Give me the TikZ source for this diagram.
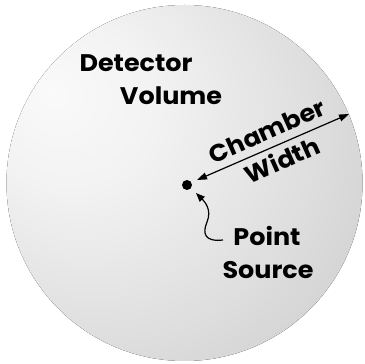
\documentclass[tikz,border=0pt]{standalone}
\usepackage{fontspec}
\setmainfont{Poppins}[FakeStretch=1.06]
\usetikzlibrary{arrows.meta}
\pgfdeclareradialshading{spherelit}{\pgfpoint{-19bp}{13bp}}{%
  color(0bp)=(black!2);
  color(12bp)=(black!5);
  color(30bp)=(black!13);
  color(50bp)=(black!23);
  color(75bp)=(black!35)}
\tikzset{
  lbl/.style={font=\bfseries\fontsize{24}{28}\selectfont, inner sep=0pt, align=center},
  arr/.style={-{Triangle[length=9pt,width=7pt]}, line width=1.2pt},
  darr/.style={{Triangle[length=10pt,width=7pt]}-{Triangle[length=10pt,width=7pt]}, line width=1.2pt}
}
\begin{document}
\begin{tikzpicture}[x=1pt,y=1pt]
\useasboundingbox (0,0) rectangle (365,364);
% sphere
\fill[shading=spherelit] (184.5,181) circle (178);
% labels
\node[lbl] (det) at (136,301) {Detector};
\node[lbl] (vol) at (171,268) {Volume};
\node[lbl, rotate=24] (cham) at (267,233) {Chamber};
\node[lbl, rotate=24] (wid) at (282,204) {Width};
\node[lbl] (pt) at (267,128) {Point};
\node[lbl] (src) at (268,94) {Source};
% point source
\node[circle, fill=black, inner sep=0pt, minimum size=10pt] (dot) at (187,179) {};
\coordinate (aL) at (197,184);
\coordinate (aR) at (349,250);
\draw[darr] (aL) -- (aR);
\coordinate (sq) at (223,124);
\draw[arr] (sq) .. controls (205,122) and (202,130) .. (207,142)
  .. controls (212,154) and (205,162) .. (196,171);
\end{tikzpicture}
\end{document}
